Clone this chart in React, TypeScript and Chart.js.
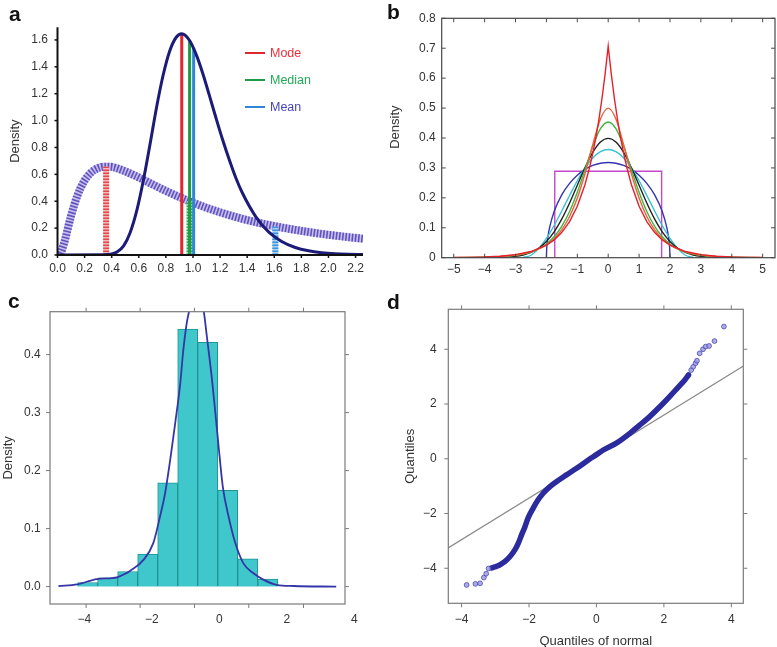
import React, { useEffect, useRef } from 'react';
import { Chart, registerables } from 'chart.js';

Chart.register(...registerables);

const FONT = "'Liberation Sans', Arial, Helvetica, sans-serif";
const LABEL = '#333333';

// ---------------- Panel a : two skewed densities ----------------
const aTicksX = [0, 0.2, 0.4, 0.6, 0.8, 1.0, 1.2, 1.4, 1.6, 1.8, 2.0, 2.2];
const aTicksY = [0, 0.2, 0.4, 0.6, 0.8, 1.0, 1.2, 1.4, 1.6];
const aNarrowX = [0, 0.341, 0.39, 0.439, 0.488, 0.536, 0.585, 0.634, 0.683, 0.731, 0.78, 0.829, 0.878, 0.917, 0.975, 1.024, 1.073, 1.121, 1.17, 1.219, 1.268, 1.316, 1.365, 1.463, 1.56, 1.658, 1.755, 1.853, 1.95, 2.048, 2.145, 2.26];
const aNarrowY = [0, 0.001, 0.005, 0.022, 0.068, 0.166, 0.330, 0.556, 0.824, 1.098, 1.339, 1.520, 1.622, 1.646, 1.596, 1.491, 1.349, 1.187, 1.019, 0.857, 0.708, 0.575, 0.461, 0.286, 0.170, 0.099, 0.056, 0.031, 0.017, 0.009, 0.005, 0.003];
const aWideX = [0, 0.0195, 0.049, 0.0975, 0.146, 0.195, 0.244, 0.293, 0.341, 0.39, 0.488, 0.585, 0.683, 0.78, 0.878, 0.975, 1.17, 1.365, 1.56, 1.755, 1.95, 2.145, 2.26];
const aWideY = [0, 0.009, 0.090, 0.282, 0.440, 0.546, 0.610, 0.644, 0.657, 0.656, 0.627, 0.584, 0.535, 0.486, 0.441, 0.399, 0.327, 0.269, 0.223, 0.187, 0.157, 0.133, 0.121];
const aLegendLabels = ['Mode', 'Median', 'Mean'];
const aSolidLineX = [0.917, 0.975, 1.005];
const aSolidLineTop = [1.646, 1.596, 1.54];
const aDashLineX = [0.359, 0.975, 1.608];
const aDashLineTop = [0.657, 0.40, 0.21];
const aLineColors = ['#e3262e', '#1f9a45', '#2e86d6'];
const aDashDark = ['#e8454a', '#2ea554', '#3a95dd'];
const aDashLight = ['#f7b8b8', '#a8dcb4', '#aad0f2'];
const aTextColors = ['#e8333a', '#22aa55', '#4545b5'];

// ---------------- Panel b : symmetric densities ----------------
const bTicksX = [-5, -4, -3, -2, -1, 0, 1, 2, 3, 4, 5];
const bTicksY = [0, 0.1, 0.2, 0.3, 0.4, 0.5, 0.6, 0.7, 0.8];
const bX = [-5, -4.5, -4, -3.5, -3, -2.75, -2.5, -2.25, -2, -1.75, -1.5, -1.25, -1, -0.75, -0.5, -0.25, 0, 0.25, 0.5, 0.75, 1, 1.25, 1.5, 1.75, 2, 2.25, 2.5, 2.75, 3, 3.5, 4, 4.5, 5];
const bNormal = [0, 0, 0.0001, 0.0009, 0.0044, 0.0091, 0.0175, 0.0317, 0.0540, 0.0863, 0.1295, 0.1826, 0.2420, 0.3011, 0.3521, 0.3867, 0.3989, 0.3867, 0.3521, 0.3011, 0.2420, 0.1826, 0.1295, 0.0863, 0.0540, 0.0317, 0.0175, 0.0091, 0.0044, 0.0009, 0.0001, 0, 0];
const bLogistic = [0.0002, 0.0005, 0.0013, 0.0032, 0.0078, 0.0122, 0.0191, 0.0296, 0.0459, 0.0699, 0.1052, 0.1543, 0.2186, 0.2949, 0.3717, 0.4310, 0.4535, 0.4310, 0.3717, 0.2949, 0.2186, 0.1543, 0.1052, 0.0699, 0.0459, 0.0296, 0.0191, 0.0122, 0.0078, 0.0032, 0.0013, 0.0005, 0.0002];
const bSech = [0.0004, 0.0009, 0.0019, 0.0041, 0.0090, 0.0133, 0.0197, 0.0292, 0.0431, 0.0637, 0.0939, 0.1377, 0.1993, 0.2813, 0.3775, 0.4638, 0.5000, 0.4638, 0.3775, 0.2813, 0.1993, 0.1377, 0.0939, 0.0637, 0.0431, 0.0292, 0.0197, 0.0133, 0.0090, 0.0041, 0.0019, 0.0009, 0.0004];
const bLaplaceX = [-5, -4.5, -4, -3.5, -3, -2.5, -2, -1.75, -1.5, -1.25, -1, -0.75, -0.6, -0.5, -0.4, -0.3, -0.2, -0.1, 0, 0.1, 0.2, 0.3, 0.4, 0.5, 0.6, 0.75, 1, 1.25, 1.5, 1.75, 2, 2.5, 3, 3.5, 4, 4.5, 5];
const bLaplaceY = [0.0006, 0.0012, 0.0025, 0.0050, 0.0102, 0.0206, 0.0418, 0.0595, 0.0848, 0.1207, 0.1719, 0.2448, 0.3027, 0.3487, 0.4016, 0.4626, 0.5329, 0.6138, 0.7071, 0.6138, 0.5329, 0.4626, 0.4016, 0.3487, 0.3027, 0.2448, 0.1719, 0.1207, 0.0848, 0.0595, 0.0418, 0.0206, 0.0102, 0.0050, 0.0025, 0.0012, 0.0006];
const bCosineX = [-2.77, -2.5, -2.25, -2, -1.75, -1.5, -1.25, -1, -0.75, -0.5, -0.25, 0, 0.25, 0.5, 0.75, 1, 1.25, 1.5, 1.75, 2, 2.25, 2.5, 2.77];
const bCosineY = [0, 0.0082, 0.0303, 0.0643, 0.1076, 0.1568, 0.2080, 0.2571, 0.2998, 0.3332, 0.3543, 0.3615, 0.3543, 0.3332, 0.2998, 0.2571, 0.2080, 0.1568, 0.1076, 0.0643, 0.0303, 0.0082, 0];
const bSemiX = [-2, -1.99, -1.95, -1.9, -1.75, -1.5, -1.25, -1, -0.75, -0.5, -0.25, 0, 0.25, 0.5, 0.75, 1, 1.25, 1.5, 1.75, 1.9, 1.95, 1.99, 2];
const bSemiY = [0, 0.0318, 0.0707, 0.0994, 0.1541, 0.2105, 0.2485, 0.2757, 0.2951, 0.3082, 0.3158, 0.3183, 0.3158, 0.3082, 0.2951, 0.2757, 0.2485, 0.2105, 0.1541, 0.0994, 0.0707, 0.0318, 0];
const bUniformX = [-1.73, -1.73, 1.73, 1.73];
const bUniformY = [0, 0.289, 0.289, 0];

// ---------------- Panel c : histogram with density ----------------
const cTicksX = [-4, -2, 0, 2];
const cExtraLabelX = [4];
const cTickMarksX = [-3.95, -2.35, -0.74, 0.87, 2.49];
const cTicksY = [0, 0.1, 0.2, 0.3, 0.4];
const cBinX = [-3.905, -3.312, -2.719, -2.126, -1.533, -0.94, -0.347, 0.246, 0.839, 1.432];
const cBinY = [0.007, 0.015, 0.026, 0.056, 0.179, 0.444, 0.421, 0.166, 0.048, 0.013];
const cCurveX = [-4.77, -4.21, -3.63, -3.04, -2.80, -2.65, -2.25, -1.96, -1.76, -1.61, -1.46, -1.31, -1.16, -1.07, -0.97, -0.89, -0.68, -0.47, -0.37, -0.23, -0.13, -0.03, 0.10, 0.27, 0.47, 0.71, 1.01, 1.30, 1.70, 2.20, 3.46];
const cCurveY = [0.001, 0.004, 0.013, 0.016, 0.022, 0.027, 0.046, 0.075, 0.121, 0.161, 0.218, 0.282, 0.351, 0.408, 0.454, 0.477, 0.53, 0.477, 0.43, 0.362, 0.305, 0.245, 0.172, 0.121, 0.075, 0.040, 0.023, 0.012, 0.003, 0.001, 0];

// ---------------- Panel d : normal Q-Q plot ----------------
const dTicksX = [-4, -2, 0, 2, 4];
const dTicksY = [-4, -2, 0, 2, 4];
const dRefX = [-4.4, 4.36];
const dRefY = [-3.26, 3.39];
const dBandX = [-3.11, -3.01, -2.87, -2.72, -2.57, -2.42, -2.32, -2.22, -2.12, -2.03, -1.88, -1.73, -1.58, -1.38, -1.19, -0.89, -0.59, -0.20, 0, 0.20, 0.59, 0.99, 1.28, 1.58, 1.88, 2.17, 2.42, 2.62, 2.73];
const dBandY = [-3.99, -3.95, -3.88, -3.76, -3.58, -3.33, -3.09, -2.78, -2.48, -2.17, -1.81, -1.50, -1.26, -1.02, -0.84, -0.59, -0.35, -0.01, 0.15, 0.32, 0.57, 0.93, 1.23, 1.54, 1.90, 2.27, 2.61, 2.88, 3.06];
const dTailX = [-3.85, -3.59, -3.45, -3.34, -3.27, -3.20, 2.81, 2.87, 2.94, 2.98, 3.06, 3.16, 3.24, 3.34, 3.50, 3.78];
const dTailY = [-4.61, -4.57, -4.55, -4.34, -4.20, -4.01, 3.24, 3.36, 3.49, 3.58, 3.85, 4.00, 4.10, 4.12, 4.30, 4.83];

// ---------------- helpers ----------------
const pts = (xs: number[], ys: number[]) => xs.map((x, i) => ({ x, y: ys[i] }));
const f1 = (v: any) => Number(v).toFixed(1);
const fB = (v: any) => (Number(v) === 0 ? '0' : Number(v).toFixed(1));
const fInt = (v: any) => (Number(v) < 0 ? '\u2212' + Math.abs(Number(v)) : String(Number(v)));

type Side = 'bottom' | 'top' | 'left' | 'right';
interface Mark { scale: string; side: Side; values: number[]; len: number; inward?: boolean }
interface FrameCfg {
  box?: { color: string; width: number };
  axisLines?: { color: string; width: number };
  marks: Mark[];
  markColor: string;
  markWidth: number;
  extraX?: { values: number[]; offset: number };
}

function framePlugin(cfg: FrameCfg) {
  return {
    id: 'frame',
    afterDatasetsDraw(chart: any) {
      const { ctx, chartArea, scales } = chart;
      const { left, right, top, bottom } = chartArea;
      ctx.save();
      if (cfg.box) {
        ctx.strokeStyle = cfg.box.color;
        ctx.lineWidth = cfg.box.width;
        ctx.strokeRect(left, top, right - left, bottom - top);
      }
      if (cfg.axisLines) {
        ctx.strokeStyle = cfg.axisLines.color;
        ctx.lineWidth = cfg.axisLines.width;
        ctx.beginPath();
        ctx.moveTo(left, top);
        ctx.lineTo(left, bottom);
        ctx.lineTo(right, bottom);
        ctx.stroke();
      }
      ctx.strokeStyle = cfg.markColor;
      ctx.lineWidth = cfg.markWidth;
      cfg.marks.forEach((m) => {
        const s = scales[m.scale];
        const d = m.inward ? -1 : 1;
        m.values.forEach((v) => {
          const p = s.getPixelForValue(v);
          ctx.beginPath();
          if (m.side === 'bottom') { ctx.moveTo(p, bottom); ctx.lineTo(p, bottom + d * m.len); }
          if (m.side === 'top') { ctx.moveTo(p, top); ctx.lineTo(p, top - d * m.len); }
          if (m.side === 'left') { ctx.moveTo(left, p); ctx.lineTo(left - d * m.len, p); }
          if (m.side === 'right') { ctx.moveTo(right, p); ctx.lineTo(right + d * m.len, p); }
          ctx.stroke();
        });
      });
      if (cfg.extraX) {
        ctx.fillStyle = LABEL;
        ctx.font = `12px ${FONT}`;
        ctx.textAlign = 'center';
        ctx.textBaseline = 'middle';
        cfg.extraX.values.forEach((v) => {
          ctx.fillText(fInt(v), scales.x.getPixelForValue(v), bottom + cfg.extraX!.offset);
        });
      }
      ctx.restore();
    },
  };
}

function xAxis(o: { min: number; max: number; ticks: number[]; fmt: (v: any) => string; padding: number; height: number; title?: string }) {
  return {
    type: 'linear',
    position: 'bottom',
    min: o.min,
    max: o.max,
    offset: false,
    grid: { display: false, drawTicks: false, offset: false },
    border: { display: false },
    ticks: { padding: o.padding, color: LABEL, font: { family: FONT, size: 12 }, callback: o.fmt, autoSkip: false, maxRotation: 0, minRotation: 0, includeBounds: false },
    afterBuildTicks: (s: any) => { s.ticks = o.ticks.map((v) => ({ value: v })); },
    afterFit: (s: any) => { s.height = o.height; s.paddingLeft = 0; s.paddingRight = 0; },
    title: o.title
      ? { display: true, text: o.title, color: LABEL, font: { family: FONT, size: 13, lineHeight: 1 }, padding: 0 }
      : { display: false },
  };
}

function yAxis(o: { min: number; max: number; ticks: number[]; fmt: (v: any) => string; padding: number; width: number; title: string }) {
  return {
    type: 'linear',
    position: 'left',
    min: o.min,
    max: o.max,
    grid: { display: false, drawTicks: false },
    border: { display: false },
    ticks: { padding: o.padding, color: LABEL, font: { family: FONT, size: 12 }, callback: o.fmt, autoSkip: false, includeBounds: false },
    afterBuildTicks: (s: any) => { s.ticks = o.ticks.map((v) => ({ value: v })); },
    afterFit: (s: any) => { s.width = o.width; s.paddingTop = 0; s.paddingBottom = 0; },
    title: { display: true, text: o.title, color: LABEL, font: { family: FONT, size: 13, lineHeight: 1.2 }, padding: 0 },
  };
}

const baseOptions = (padding: any, scales: any) => ({
  responsive: false,
  animation: false,
  devicePixelRatio: 1,
  layout: { padding },
  plugins: { legend: { display: false }, tooltip: { enabled: false } },
  elements: { point: { radius: 0 } },
  scales,
});

const curve = (xs: number[], ys: number[], color: string, width: number, extra: any = {}) => ({
  data: pts(xs, ys),
  showLine: true,
  borderColor: color,
  backgroundColor: color,
  borderWidth: width,
  pointRadius: 0,
  fill: false,
  cubicInterpolationMode: 'monotone',
  ...extra,
});

// ---------------- chart configs ----------------
function configA(): any {
  const solid = aSolidLineX.map((x, i) =>
    curve([x, x], [0, aSolidLineTop[i]], aLineColors[i], 3, { cubicInterpolationMode: 'default', tension: 0 }));
  const dashTop = aDashLineX.map((x, i) =>
    curve([x, x], [0, aDashLineTop[i]], aDashDark[i], 6, { cubicInterpolationMode: 'default', tension: 0, borderDash: [1.5, 1.5] }));
  const dashUnder = aDashLineX.map((x, i) =>
    curve([x, x], [0, aDashLineTop[i]], aDashLight[i], 6, { cubicInterpolationMode: 'default', tension: 0 }));
  return {
    type: 'scatter',
    data: {
      datasets: [
        curve(aNarrowX, aNarrowY, '#1c1c78', 3),
        ...solid,
        ...dashTop,
        ...dashUnder,
        curve(aWideX, aWideY, '#6152bb', 8, { borderDash: [1.6, 1.6] }),
        curve(aWideX, aWideY, '#c6bff0', 8),
      ],
    },
    options: baseOptions({ left: 7.2, right: 22, top: 27.3, bottom: 0 }, {
      x: xAxis({ min: 0, max: 2.255, ticks: aTicksX, fmt: f1, padding: 6.1, height: 45 }),
      y: yAxis({ min: 0, max: 1.694, ticks: aTicksY, fmt: f1, padding: 9.5, width: 50.3, title: 'Density' }),
    }),
    plugins: [framePlugin({
      axisLines: { color: '#111111', width: 2 },
      markColor: '#111111',
      markWidth: 1.5,
      marks: [
        { scale: 'x', side: 'bottom', values: aTicksX, len: 3 },
        { scale: 'y', side: 'left', values: aTicksY, len: 3 },
      ],
    })],
  };
}

function configB(): any {
  return {
    type: 'scatter',
    data: {
      datasets: [
        curve(bLaplaceX, bLaplaceY, '#e4202a', 1.4, { cubicInterpolationMode: 'default', tension: 0 }),
        curve(bX, bSech, '#e8643a', 1.4),
        curve(bX, bLogistic, '#3fb544', 1.4),
        curve(bX, bNormal, '#222222', 1.4),
        curve(bCosineX, bCosineY, '#36c2d2', 1.4),
        curve(bSemiX, bSemiY, '#3434b0', 1.4),
        curve(bUniformX, bUniformY, '#c846c8', 1.4, { cubicInterpolationMode: 'default', tension: 0 }),
      ],
    },
    options: baseOptions({ left: 2.2, right: 2, top: 18.3, bottom: 0 }, {
      x: xAxis({ min: -5.39, max: 5.4, ticks: bTicksX, fmt: fInt, padding: 5.1, height: 42.3 }),
      y: yAxis({ min: 0, max: 0.8, ticks: bTicksY, fmt: fB, padding: 6, width: 54.5, title: '      Density' }),
    }),
    plugins: [framePlugin({
      box: { color: '#484848', width: 1.2 },
      markColor: '#484848',
      markWidth: 1,
      marks: [
        { scale: 'x', side: 'bottom', values: bTicksX, len: 4, inward: true },
        { scale: 'x', side: 'top', values: bTicksX, len: 4, inward: true },
        { scale: 'y', side: 'left', values: bTicksY, len: 4, inward: true },
        { scale: 'y', side: 'right', values: bTicksY, len: 4, inward: true },
      ],
    })],
  };
}

function configC(): any {
  return {
    type: 'bar',
    data: {
      datasets: [
        { type: 'line', ...curve(cCurveX, cCurveY, '#3535a8', 1.8) },
        {
          type: 'bar',
          data: pts(cBinX, cBinY),
          backgroundColor: '#3fc7cb',
          borderColor: '#1f9494',
          borderWidth: 1,
          borderSkipped: 'bottom',
          barPercentage: 1,
          categoryPercentage: 1,
          grouped: false,
        },
      ],
    },
    options: baseOptions({ left: 0.2, right: 40, top: 11.7, bottom: 0 }, {
      x: xAxis({ min: -5.02, max: 3.72, ticks: cTicksX, fmt: fInt, padding: 8.8, height: 43 }),
      y: yAxis({ min: -0.03, max: 0.474, ticks: cTicksY, fmt: f1, padding: 9.3, width: 49.8, title: 'Density' }),
    }),
    plugins: [framePlugin({
      box: { color: '#7a7a7a', width: 1.2 },
      markColor: '#7a7a7a',
      markWidth: 1,
      marks: [
        { scale: 'x', side: 'bottom', values: cTickMarksX, len: 4 },
        { scale: 'x', side: 'top', values: cTickMarksX, len: 4 },
        { scale: 'y', side: 'left', values: cTicksY, len: 4 },
        { scale: 'y', side: 'right', values: cTicksY, len: 4 },
      ],
      extraX: { values: cExtraLabelX, offset: 16 },
    })],
  };
}

function configD(): any {
  return {
    type: 'scatter',
    data: {
      datasets: [
        {
          data: pts(dTailX, dTailY),
          showLine: false,
          pointRadius: 2.4,
          pointBackgroundColor: 'rgba(150,150,222,0.8)',
          pointBorderColor: '#4a4ab2',
          pointBorderWidth: 0.8,
        },
        curve(dBandX, dBandY, '#2b2b9e', 5.5, { borderCapStyle: 'round', borderJoinStyle: 'round' }),
        curve(dRefX, dRefY, '#8a8a8a', 1.3, { cubicInterpolationMode: 'default', tension: 0 }),
      ],
    },
    options: baseOptions({ left: 17.2, right: 33.7, top: 9.3, bottom: 3.8 }, {
      x: xAxis({ min: -4.394, max: 4.355, ticks: dTicksX, fmt: fInt, padding: 9.5, height: 44.9, title: 'Quantiles of normal' }),
      y: yAxis({ min: -5.28, max: 5.46, ticks: dTicksY, fmt: fInt, padding: 11.6, width: 46.1, title: 'Quantiles' }),
    }),
    plugins: [framePlugin({
      box: { color: '#7a7a7a', width: 1.2 },
      markColor: '#7a7a7a',
      markWidth: 1,
      marks: [
        { scale: 'x', side: 'bottom', values: dTicksX, len: 4 },
        { scale: 'x', side: 'top', values: dTicksX, len: 4 },
        { scale: 'y', side: 'left', values: dTicksY, len: 4 },
        { scale: 'y', side: 'right', values: dTicksY, len: 4 },
      ],
    })],
  };
}

function Panel({ make, left, top, width, height }: { make: () => any; left: number; top: number; width: number; height: number }) {
  const ref = useRef<HTMLCanvasElement>(null);
  useEffect(() => {
    if (!ref.current) return;
    const chart = new Chart(ref.current, make());
    return () => chart.destroy();
  }, [make]);
  return (
    <canvas
      ref={ref}
      width={width}
      height={height}
      style={{ position: 'absolute', left, top, width, height }}
    />
  );
}

const letterStyle = (left: number, top: number): React.CSSProperties => ({
  position: 'absolute',
  left,
  top,
  fontFamily: FONT,
  fontWeight: 'bold',
  fontSize: 21,
  lineHeight: '21px',
  color: '#111',
});

const legendRows = [53, 80, 107];

export default function App() {
  useEffect(() => {
    document.body.style.margin = '0';
  }, []);
  return (
    <div style={{ position: 'fixed', left: 0, top: 0, width: 777, height: 647, overflow: 'hidden', background: '#ffffff' }}>
      <Panel make={configA} left={0} top={0} width={385} height={300} />
      <Panel make={configB} left={385} top={0} width={392} height={300} />
      <Panel make={configC} left={0} top={300} width={385} height={347} />
      <Panel make={configD} left={385} top={300} width={392} height={352} />
      <div style={letterStyle(9, 2.75)}>a</div>
      <div style={letterStyle(387, 0.75)}>b</div>
      <div style={letterStyle(8, 290.25)}>c</div>
      <div style={letterStyle(387, 291.25)}>d</div>
      {aLegendLabels.map((label, i) => (
        <React.Fragment key={label}>
          <div style={{ position: 'absolute', left: 245, top: legendRows[i] - 1.25, width: 20, height: 2.5, background: aLineColors[i] }} />
          <div style={{ position: 'absolute', left: 270, top: legendRows[i] - 7.5, fontFamily: FONT, fontSize: 12.5, lineHeight: '15px', color: aTextColors[i], whiteSpace: 'nowrap' }}>{label}</div>
        </React.Fragment>
      ))}
    </div>
  );
}
